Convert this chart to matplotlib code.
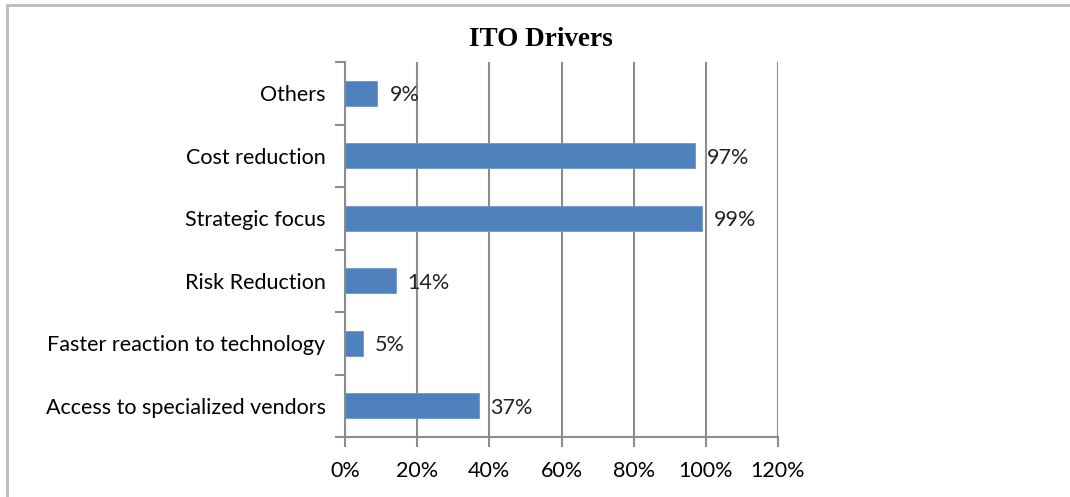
import matplotlib.pyplot as plt
from matplotlib.patches import Rectangle

# data (bottom to top, as drawn)
categories = ["Access to specialized vendors", "Faster reaction to technology",
              "Risk Reduction", "Strategic focus", "Cost reduction", "Others"]
values = [37, 5, 14, 99, 97, 9]
xticks = [0, 20, 40, 60, 80, 100, 120]

BAR = "#4F81BD"
GRID = "#8C8C8C"
FS = 15.5

fig = plt.figure(figsize=(10.70, 4.97), dpi=100)
ax = fig.add_axes([345 / 1070, 1 - 437 / 497, 433 / 1070, 375 / 497])

# outer chart frame
fig.patches.append(Rectangle((7 / 1070, -0.1), 1.2, 1 - 5 / 497 + 0.1,
                             transform=fig.transFigure, fill=False,
                             ec="#BBBBBB", lw=2))

y = range(len(categories))
ax.barh(y, values, height=0.4, color=BAR, edgecolor="#6F97C8", lw=0.6, zorder=3)
for yi, v in zip(y, values):
    ax.text(v + 3.3, yi - 0.03, f"{v}%", va="center", ha="left",
            fontsize=FS, family="Lato", color="#222222", zorder=4)

ax.set_xlim(0, 120)
ax.set_ylim(-0.5, len(categories) - 0.5)
ax.set_xticks(xticks)
ax.set_xticklabels([f"{t}%" for t in xticks], fontsize=FS, family="Lato")
ax.set_yticks(list(y))
ax.set_yticklabels(categories, fontsize=FS, family="Lato")
ax.tick_params(axis="y", length=0, pad=14)
ax.tick_params(axis="x", length=7, width=1.5, color=GRID, pad=10)

# category boundary ticks on the y axis
ax.set_yticks([i - 0.5 for i in range(len(categories) + 1)], minor=True)
ax.tick_params(axis="y", which="minor", length=7, width=1.5, color=GRID)

ax.grid(axis="x", color=GRID, lw=1.5, zorder=0)
for s in ["top", "right"]:
    ax.spines[s].set_visible(False)
for s in ["left", "bottom"]:
    ax.spines[s].set_color(GRID)
    ax.spines[s].set_linewidth(1.5)

fig.text(541 / 1070, 1 - 40 / 497, "ITO Drivers", ha="center", va="center",
         fontsize=19.5, fontweight="bold", family="Liberation Serif")

fig.savefig("out.png", dpi=100)
